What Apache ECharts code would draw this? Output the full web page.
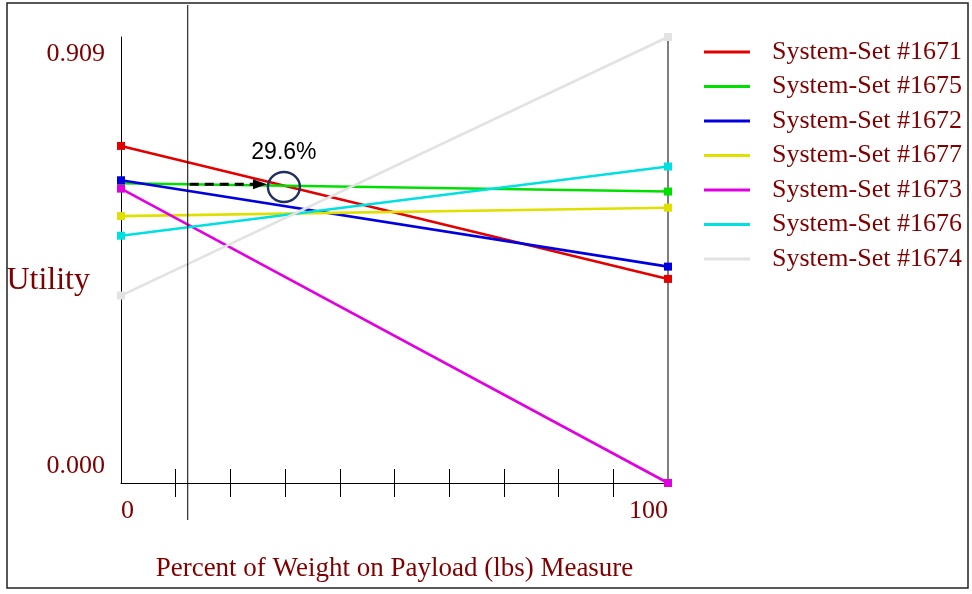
<!DOCTYPE html>
<html>
<head>
<meta charset="utf-8">
<script src="https://cdn.jsdelivr.net/npm/echarts@6.0.0/dist/echarts.min.js"></script>
<style>
html,body{margin:0;padding:0;background:#fff;}
#main{width:972px;height:594px;}
</style>
</head>
<body>
<div id="main"></div>
<script>
// ---- data ----
const xValues = [0, 100];
const seriesNames = ['System-Set #1671','System-Set #1675','System-Set #1672','System-Set #1677','System-Set #1673','System-Set #1676','System-Set #1674'];
const startValues = [0.687, 0.611, 0.617, 0.544, 0.600, 0.504, 0.382];
const endValues   = [0.416, 0.594, 0.441, 0.561, 0.000, 0.645, 0.909];
const seriesColors = ['#e20000','#00e000','#0000e0','#e0e000','#e000e0','#00e0e0','#e2e2e2'];
const yMin = 0.000, yMax = 0.909;
const xTickValues = [10,20,30,40,50,60,70,80,90];
const xLabelValues = [0, 100];
const yLabelValues = [0.000, 0.909];
const currentWeightPct = 12.2;
const crossoverPct = 29.6;
const crossoverLabel = '29.6%';
const xTitle = 'Percent of Weight on Payload (lbs) Measure';
const yTitle = 'Utility';

const DARKRED = '#7f0000';
const SERIF = '"Liberation Serif", "Times New Roman", serif';

const chart = echarts.init(document.getElementById('main'), null, {renderer:'canvas'});

const series = seriesNames.map((n, i) => ({
  name: n,
  type: 'line',
  xAxisIndex: 0,
  yAxisIndex: 0,
  data: [[xValues[0], startValues[i]], [xValues[1], endValues[i]]],
  symbol: 'rect',
  symbolSize: 8,
  showSymbol: true,
  lineStyle: {color: seriesColors[i], width: 2.6},
  itemStyle: {color: seriesColors[i]},
  emphasis: {disabled: true},
  z: 3
}));

const option = {
  animation: false,
  backgroundColor: '#fff',
  grid: {left: 121, right: 304, top: 37, bottom: 111, containLabel: false, outerBoundsMode: 'none'},
  legend: {
    left: 704, top: 39, orient: 'vertical', padding: 0,
    icon: 'rect', itemWidth: 46, itemHeight: 3, itemGap: 8.5,
    selectedMode: false,
    data: seriesNames,
    textStyle: {color: DARKRED, fontFamily: SERIF, fontSize: 26, lineHeight: 24, padding: [0,0,0,17]}
  },
  xAxis: [{
    type: 'value', min: 0, max: 100, interval: 10, position: 'bottom',
    axisLine: {show: true, onZero: false, lineStyle: {color: '#000', width: 1}},
    axisTick: {show: true, length: 14, inside: false, customValues: xTickValues, lineStyle: {color: '#000'}},
    axisLabel: {show: true, customValues: xLabelValues, margin: 15, color: DARKRED, fontFamily: SERIF, fontSize: 26,
      alignMinLabel: 'left', alignMaxLabel: 'right'},
    splitLine: {show: false},
    name: xTitle, nameLocation: 'middle', nameGap: 72,
    nameTextStyle: {color: DARKRED, fontFamily: SERIF, fontSize: 27}
  },{
    type: 'value', min: 0, max: 100, interval: 10, position: 'bottom',
    axisLine: {show: false, onZero: false},
    axisTick: {show: true, length: 14, inside: true, customValues: xTickValues, lineStyle: {color: '#000'}},
    axisLabel: {show: false},
    splitLine: {show: false}
  }],
  yAxis: [{
    type: 'value', min: yMin, max: yMax, position: 'left',
    axisLine: {show: true, onZero: false, lineStyle: {color: '#000', width: 1}},
    axisTick: {show: false},
    splitLine: {show: false},
    axisLabel: {
      show: true, customValues: yLabelValues, margin: 16,
      formatter: v => (v >= yMax - 1e-9 ? '{t|' : '{b|') + v.toFixed(3) + '}',
      rich: {
        t: {color: DARKRED, fontFamily: SERIF, fontSize: 26, padding: [34,0,0,0]},
        b: {color: DARKRED, fontFamily: SERIF, fontSize: 26, padding: [0,0,34,0]}
      }
    }
  },{
    type: 'value', min: yMin, max: yMax, position: 'right',
    axisLine: {show: true, onZero: false, lineStyle: {color: '#555', width: 1.5}},
    axisTick: {show: false}, axisLabel: {show: false}, splitLine: {show: false}
  }],
  series: series
};
chart.setOption(option);

// ---- annotations derived from the scales ----
const greenIdx = 1, redIdx = 0;
function valAt(i, x) { return startValues[i] + (endValues[i] - startValues[i]) * x / 100; }
const toPx = p => chart.convertToPixel({xAxisIndex:0, yAxisIndex:0}, p);
const cwTop = toPx([currentWeightPct, yMax]);
const arrowStart = toPx([currentWeightPct, valAt(greenIdx, currentWeightPct)]);
const crossVal = (valAt(greenIdx, crossoverPct) + valAt(redIdx, crossoverPct)) / 2;
const cross = toPx([crossoverPct, crossVal]);
const axisMid = toPx([0, (yMin + yMax) / 2]);
const rx = 16, ry = 15;
const tipX = cross[0] - rx;
const ay = arrowStart[1];

chart.setOption({
  graphic: [
    {type:'rect', shape:{x:7, y:3, width:961, height:585}, style:{fill:'none', stroke:'#222', lineWidth:1.5}, silent:true, z:0},
    {type:'text', x:axisMid[0]-31, y:axisMid[1]+21, style:{text:yTitle, fill:DARKRED, font:'32px ' + SERIF, textAlign:'right', textVerticalAlign:'middle'}, silent:true, z:10},
    {type:'line', shape:{x1:cwTop[0], y1:5, x2:cwTop[0], y2:520}, style:{stroke:'#000', lineWidth:1}, silent:true, z:10},
    {type:'line', shape:{x1:arrowStart[0]+2, y1:ay, x2:tipX-12, y2:ay}, style:{stroke:'#000', lineWidth:2.8, lineDash:[9,6]}, silent:true, z:11},
    {type:'polygon', shape:{points:[[tipX, ay],[tipX-14, ay-5],[tipX-14, ay+5]]}, style:{fill:'#000'}, silent:true, z:11},
    {type:'ellipse', shape:{cx:cross[0]+1, cy:cross[1]+1.5, rx:rx, ry:ry}, style:{fill:'none', stroke:'#1f2f5f', lineWidth:2.4}, silent:true, z:12},
    {type:'text', x:cross[0]+1, y:cross[1]-33, style:{text:crossoverLabel, fill:'#000', font:'23px "Liberation Sans", Arial, sans-serif', textAlign:'center', textVerticalAlign:'middle'}, silent:true, z:12}
  ]
});
</script>
</body>
</html>
